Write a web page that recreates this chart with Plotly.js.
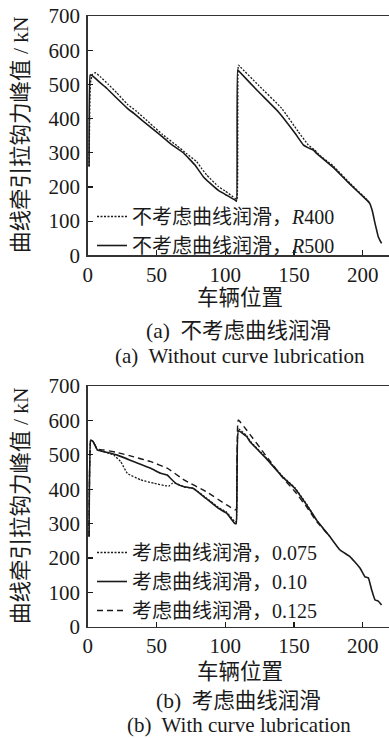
<!DOCTYPE html>
<html>
<head>
<meta charset="utf-8">
<script src="https://cdn.plot.ly/plotly-3.0.1.min.js"></script>
<style>
html,body{margin:0;padding:0;background:#fff;}
#chart{width:389px;height:738px;}
</style>
</head>
<body>
<div id="chart"></div>
<script>
// ---- Panel (a): without curve lubrication ----
const aR500X = [1, 1.8, 3, 6, 9, 14, 21, 28.8, 33.6, 40, 52.6, 60, 69.5, 78, 84, 88.9, 95, 100, 107, 108.2, 109, 110.5, 124, 138.5, 150.7, 156.7, 160, 164, 166.4, 178.5, 190.6, 202.7, 205, 207, 208.8, 210, 211.2, 212.5, 213.6];
const aR500Y = [260, 527, 527, 516, 505, 488, 460, 430, 415, 393, 352, 327, 300, 264, 230, 211, 190, 178, 162, 158, 543, 536, 479, 420, 357, 323, 315, 308, 298, 257, 208, 162, 152, 128, 94, 74, 54, 43, 35];
const aR400X = [1, 2, 3.5, 5.5, 9, 15, 21, 28.8, 35, 45, 54.2, 65, 72, 79.2, 83, 86.5, 95, 100, 107, 108.5, 109.5, 110.7, 124, 141, 153, 160.3, 165, 168.8, 178.5, 190.6, 202.7, 205];
const aR400Y = [260, 505, 530, 534, 523, 500, 476, 442, 423, 387, 354, 320, 297, 274, 253, 235, 201, 188, 167, 164, 556, 552, 498, 430, 362, 323, 308, 292, 261, 211, 164, 153];

// ---- Panel (b): with curve lubrication ----
const b010X = [1, 2.2, 4, 7, 11.8, 21.5, 33.6, 45.8, 53, 57.8, 60.3, 64, 70, 76.8, 86, 95, 101, 107, 108, 109.5, 115.5, 118, 130, 142, 150.6, 159, 166.4, 176, 183.4, 190.6, 198, 201.5, 204, 206.4, 208.8, 211, 213.6];
const b010Y = [262, 543, 538, 514, 509, 499, 480, 461, 446, 441, 431, 417, 407, 402, 373, 344, 330, 300, 300, 570, 553, 538, 488, 434, 402, 355, 310, 262, 223, 204, 170, 145, 142, 107, 78, 75, 63];
const b0075X = [1, 2.2, 4, 7, 11.8, 19, 24, 28.8, 38.5, 48.2, 59, 61.5, 64, 70, 76.8, 86, 95, 101, 107, 108, 109.5, 115.5, 118, 130, 142, 150.6, 159, 166.4, 176];
const b0075Y = [262, 543, 538, 514, 509, 499, 480, 446, 427, 417, 409, 417, 417, 407, 402, 375, 347, 333, 305, 305, 575, 556, 540, 490, 436, 404, 357, 310, 262];
const b0125X = [1, 2.2, 4, 7, 11.8, 21, 33.6, 45.8, 57.8, 70, 86, 101, 107, 108, 109.4, 115.5, 130, 142, 150.6, 159, 166.4, 176];
const b0125Y = [262, 543, 538, 516, 514, 507, 494, 480, 461, 427, 393, 354, 340, 340, 601, 572, 495, 432, 393, 349, 306, 262];

const xTicks = [0, 50, 100, 150, 200];
const yTicks = [0, 100, 200, 300, 400, 500, 600, 700];

const serif = 'Liberation Serif, "Times New Roman", "Noto Sans CJK SC", serif';
const cjk = 'Liberation Serif, "Noto Sans CJK SC", serif';
const ink = '#1a1a1a';

function tr(x, y, name, dash, w, xa, ya, leg) {
  return {x: x, y: y, name: name, type: 'scatter', mode: 'lines',
    line: {color: ink, width: w, dash: dash, shape: 'spline', smoothing: 0.3},
    xaxis: xa, yaxis: ya, legend: leg};
}

const data = [
  tr(aR400X, aR400Y, '不考虑曲线润滑，<i>R</i>400', '2px,1.5px', 1.3, 'x', 'y', 'legend'),
  tr(aR500X, aR500Y, '不考虑曲线润滑，<i>R</i>500', 'solid', 1.6, 'x', 'y', 'legend'),
  tr(b0075X, b0075Y, '考虑曲线润滑，0.075', '2px,1.5px', 1.3, 'x2', 'y2', 'legend2'),
  tr(b010X, b010Y, '考虑曲线润滑，0.10', 'solid', 1.6, 'x2', 'y2', 'legend2'),
  tr(b0125X, b0125Y, '考虑曲线润滑，0.125', '6px,4px', 1.4, 'x2', 'y2', 'legend2')
];

function xax(anchor) {
  return {domain: [87.7/389, 1], range: [0, 219], anchor: anchor,
    tickvals: xTicks, ticks: 'inside', ticklen: 5, tickwidth: 1.2, tickcolor: ink,
    showline: true, linecolor: '#333', linewidth: 1.5, mirror: true,
    showgrid: false, zeroline: false,
    tickfont: {family: serif, size: 21, color: ink}};
}
function yax(dom, anchor) {
  return {domain: dom, range: [0, 700], anchor: anchor,
    tickvals: yTicks, ticks: 'inside', ticklen: 5, tickwidth: 1.2, tickcolor: ink,
    showline: true, linecolor: '#333', linewidth: 1.5, mirror: false,
    showgrid: false, zeroline: false, ticklabelstandoff: 2,
    tickfont: {family: serif, size: 21, color: ink}};
}

const ann = [];
function txt(text, x, y, size, angle) {
  ann.push({text: text, xref: 'paper', yref: 'paper', x: x/389, y: 1 - y/738,
    xanchor: 'center', yanchor: 'middle', showarrow: false, textangle: angle || 0,
    font: {family: cjk, size: size, color: ink}});
}
txt('曲线牵引拉钩力峰值 / kN', 21, 135, 21.5, -90);
txt('曲线牵引拉钩力峰值 / kN', 21, 506, 21.5, -90);
txt('车辆位置', 240, 298, 21.5);
txt('车辆位置', 240, 672, 21.5);
txt('(a)  不考虑曲线润滑', 238, 331, 21.5);
txt('(a)  Without curve lubrication', 240, 356, 21);
txt('(b)  考虑曲线润滑', 238, 701, 21.5);
txt('(b)  With curve lubrication', 239, 725, 21);

const legFont = {family: cjk, size: 20, color: ink};
const layout = {
  width: 389, height: 738,
  margin: {l: 0, r: 0, t: 0, b: 0},
  paper_bgcolor: '#fff', plot_bgcolor: '#fff',
  showlegend: true,
  xaxis: xax('y'),
  yaxis: yax([(738-255.3)/738, (738-16)/738], 'x'),
  xaxis2: xax('y2'),
  yaxis2: yax([(738-626.7)/738, (738-386)/738], 'x2'),
  legend: {x: 92/389, y: 1 - 197/738, xanchor: 'left', yanchor: 'top',
    bgcolor: 'rgba(0,0,0,0)', font: legFont, tracegroupgap: 0, itemwidth: 30},
  legend2: {x: 92/389, y: 1 - 533/738, xanchor: 'left', yanchor: 'top',
    bgcolor: 'rgba(0,0,0,0)', font: legFont, tracegroupgap: 0, itemwidth: 30},
  annotations: ann
};

Plotly.newPlot('chart', data, layout, {staticPlot: true, displayModeBar: false});
</script>
</body>
</html>
